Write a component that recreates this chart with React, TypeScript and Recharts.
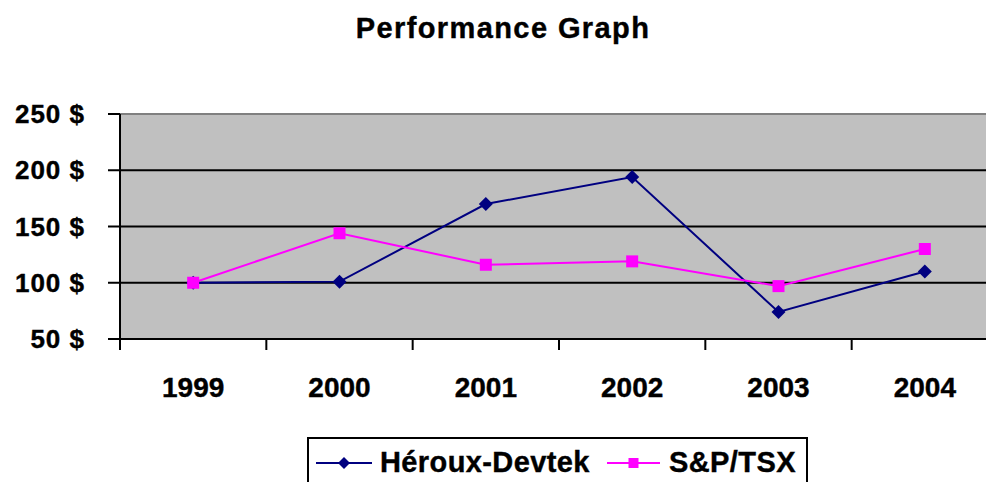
import { LineChart, Line, XAxis, YAxis, CartesianGrid, Legend, ReferenceLine } from 'recharts';

const years = ['1999', '2000', '2001', '2002', '2003', '2004'];
const heroux = [100, 101, 170, 194, 74, 110];
const tsx = [100, 144, 116, 119, 97, 130];
const yTicks = [50, 100, 150, 200, 250];

const data = years.map((year, i) => ({ idx: i, year, heroux: heroux[i], tsx: tsx[i] }));
// labels sit on whole numbers, separator ticks on the halves between them
const xTicks = years.flatMap((_, i) => [i - 0.5, i]).concat(years.length - 0.5);

const NAVY = '#000080';
const PINK = '#FF00FF';

const Diamond = ({ cx, cy, r = 7, fill }: any) => (
  <polygon points={`${cx},${cy - r} ${cx + r},${cy} ${cx},${cy + r} ${cx - r},${cy}`} fill={fill} />
);

const Square = ({ cx, cy, r = 6, fill }: any) => (
  <rect x={cx - r} y={cy - r} width={r * 2} height={r * 2} fill={fill} />
);

const XTick = ({ x, y, payload }: any) => {
  const v = payload.value;
  if (Number.isInteger(v)) {
    return (
      <text x={x} y={y + 58} textAnchor="middle" fontSize={28} fontWeight="bold" fill="#000" stroke="#000" strokeWidth={0.4}>
        {years[v]}
      </text>
    );
  }
  return <line x1={x} x2={x} y1={y} y2={y + 11} stroke="#000" strokeWidth={2} />;
};

const LegendBox = ({ payload }: any) => {
  const slots = [
    { line: [9, 65], text: 73 },
    { line: [300, 353], text: 362 },
  ];
  return (
    <svg width={501} height={50} style={{ display: 'block' }}>
      <rect x={1} y={1} width={499} height={60} fill="#fff" stroke="#000" strokeWidth={2} />
      {(payload || []).map((entry: any, i: number) => {
        const s = slots[i];
        const mid = (s.line[0] + s.line[1]) / 2;
        return (
          <g key={entry.value}>
            <line x1={s.line[0]} x2={s.line[1]} y1={26} y2={26} stroke={entry.color} strokeWidth={2} />
            {i === 0 ? (
              <Diamond cx={mid} cy={26} r={6} fill={entry.color} />
            ) : (
              <Square cx={mid} cy={26} r={5} fill={entry.color} />
            )}
            <text x={s.text} y={35} fontSize={29} fontWeight="bold" fill="#000" stroke="#000" strokeWidth={0.4} style={{ letterSpacing: 0.4 }}>
              {entry.value}
            </text>
          </g>
        );
      })}
    </svg>
  );
};

export default function App() {
  return (
    <div
      style={{
        position: 'fixed',
        left: 0,
        top: 0,
        width: 986,
        height: 482,
        overflow: 'hidden',
        background: '#fff',
        fontFamily: '"Liberation Sans", Arial, sans-serif',
      }}
    >
      <div
        style={{
          position: 'absolute',
          left: 0,
          top: 12,
          width: 1006,
          textAlign: 'center',
          fontSize: 29,
          fontWeight: 'bold',
          letterSpacing: 1.4,
          lineHeight: 'normal',
          WebkitTextStroke: '0.4px #000',
          zIndex: 1,
        }}
      >
        Performance Graph
      </div>
      <LineChart width={1000} height={482} data={data} margin={{ top: 114, right: 2, left: 0, bottom: 0 }}>
        <CartesianGrid
          vertical={false}
          stroke="#000"
          strokeWidth={2}
          fill="#C0C0C0"
          fillOpacity={1}
          horizontalValues={[100, 150, 200]}
        />
        <ReferenceLine y={250} stroke="#808080" strokeWidth={2} />
        <XAxis
          type="number"
          dataKey="idx"
          domain={[-0.5, 5.5]}
          ticks={xTicks}
          interval={0}
          height={93}
          tickSize={0}
          tickMargin={0}
          tickLine={false}
          axisLine={{ stroke: '#000', strokeWidth: 2 }}
          tick={<XTick />}
        />
        <YAxis
          domain={[50, 250]}
          ticks={yTicks}
          interval={0}
          width={120}
          tickSize={12}
          tickMargin={23}
          tickFormatter={(v: number) => `${v} $`}
          axisLine={{ stroke: '#000', strokeWidth: 2 }}
          tickLine={{ stroke: '#000', strokeWidth: 2 }}
          tick={{ fill: '#000', stroke: '#000', strokeWidth: 0.4, fontSize: 26, fontWeight: 'bold', style: { letterSpacing: 1 } }}
        />
        <Legend
          verticalAlign="bottom"
          content={<LegendBox />}
          wrapperStyle={{ left: 307, top: 437, width: 501, height: 50 }}
        />
        <Line
          type="linear"
          dataKey="heroux"
          name="Héroux-Devtek"
          stroke={NAVY}
          strokeWidth={2}
          isAnimationActive={false}
          activeDot={false}
          dot={(p: any) => <Diamond key={`h-${p.index}`} cx={p.cx} cy={p.cy} fill={NAVY} />}
        />
        <Line
          type="linear"
          dataKey="tsx"
          name="S&P/TSX"
          stroke={PINK}
          strokeWidth={2}
          isAnimationActive={false}
          activeDot={false}
          dot={(p: any) => <Square key={`t-${p.index}`} cx={p.cx} cy={p.cy} fill={PINK} />}
        />
      </LineChart>
    </div>
  );
}
